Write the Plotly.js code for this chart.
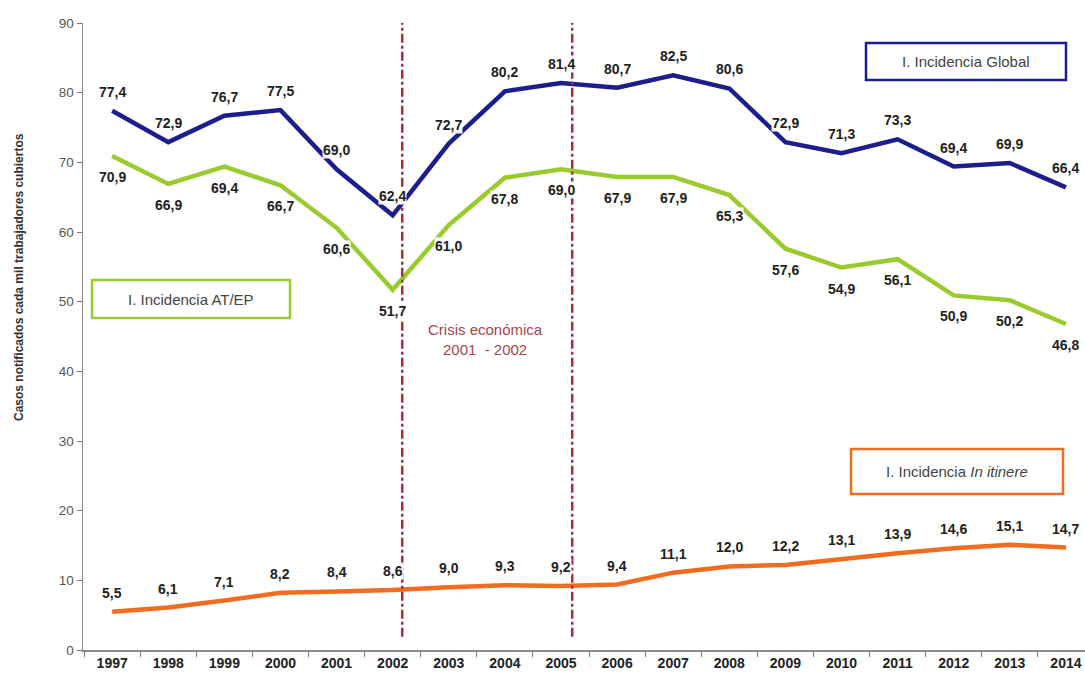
<!DOCTYPE html>
<html>
<head>
<meta charset="utf-8">
<script src="https://cdn.plot.ly/plotly-3.0.1.min.js"></script>
<style>html,body{margin:0;padding:0;background:#fff;}#chart{width:1085px;height:675px;}</style>
</head>
<body>
<div id="chart"></div>
<script>
const years = ["1997","1998","1999","2000","2001","2002","2003","2004","2005","2006","2007","2008","2009","2010","2011","2012","2013","2014"];
const global = [77.4,72.9,76.7,77.5,69.0,62.4,72.7,80.2,81.4,80.7,82.5,80.6,72.9,71.3,73.3,69.4,69.9,66.4];
const atep = [70.9,66.9,69.4,66.7,60.6,51.7,61.0,67.8,69.0,67.9,67.9,65.3,57.6,54.9,56.1,50.9,50.2,46.8];
const itinere = [5.5,6.1,7.1,8.2,8.4,8.6,9.0,9.3,9.2,9.4,11.1,12.0,12.2,13.1,13.9,14.6,15.1,14.7];
const crisisMarks = [5.17, 8.2];

const W = 1085, H = 675, L = 83, R = 0, T = 23, B = 25;
const pw = W - L - R, ph = H - T - B;
const px = x => (x - L) / pw;
const py = y => (H - B - y) / ph;
const fmt = v => v.toFixed(1).replace('.', ',');
const FONT = 'Liberation Sans, Arial, sans-serif';

const series = [
  {name: 'I. Incidencia Global', y: global, color: '#1b1e8c', shift: 19},
  {name: 'I. Incidencia AT/EP', y: atep, color: '#9acb2e', shift: -21},
  {name: 'I. Incidencia In itinere', y: itinere, color: '#f26c1f', shift: 19}
];

const traces = series.map(s => ({
  type: 'scatter', mode: 'lines', x: years, y: s.y, name: s.name,
  line: {color: s.color, width: 4.5}, hoverinfo: 'x+y'
}));

const annotations = [];
series.forEach(s => {
  s.y.forEach((v, i) => {
    annotations.push({
      x: i, y: v, xref: 'x', yref: 'y', yshift: s.shift, xanchor: 'center', yanchor: 'middle',
      text: fmt(v), showarrow: false, bgcolor: 'rgba(255,255,255,0.95)', borderpad: 0,
      font: {family: FONT, size: 14, color: '#222', weight: 'bold'}
    });
  });
});

// legend boxes
const boxes = [
  {x0: 866, x1: 1066, y0: 43, y1: 80, color: '#1b1e8c', text: 'I. Incidencia Global'},
  {x0: 92, x1: 290, y0: 280, y1: 318, color: '#9acb2e', text: 'I. Incidencia AT/EP'},
  {x0: 851, x1: 1063, y0: 449, y1: 494, color: '#f26c1f', text: 'I. Incidencia <i>In itinere</i>'}
];
const shapes = [];
boxes.forEach(b => {
  shapes.push({type: 'rect', xref: 'paper', yref: 'paper', x0: px(b.x0), x1: px(b.x1), y0: py(b.y1), y1: py(b.y0),
    line: {color: b.color, width: 2.5}, fillcolor: 'white', layer: 'above'});
  annotations.push({xref: 'paper', yref: 'paper', x: px((b.x0 + b.x1) / 2), y: py((b.y0 + b.y1) / 2),
    xanchor: 'center', yanchor: 'middle',
    text: b.text, showarrow: false, font: {family: FONT, size: 15, color: '#444'}});
});

crisisMarks.forEach(xv => {
  shapes.push({type: 'line', xref: 'x', yref: 'y', x0: xv, x1: xv, y0: 1.9, y1: 90,
    line: {color: '#a3303c', width: 2.5, dash: 'dashdot'}, layer: 'above'});
});

annotations.push({xref: 'paper', yref: 'paper', x: px(485), y: py(340), xanchor: 'center', yanchor: 'middle',
  text: 'Crisis económica<br>2001  - 2002', showarrow: false,
  font: {family: FONT, size: 15, color: '#a5464f'}});

annotations.push({xref: 'paper', yref: 'paper', x: px(19), y: py(277), xanchor: 'center', yanchor: 'middle', textangle: -90,
  text: 'Casos notificados cada mil trabajadores cubiertos', showarrow: false,
  font: {family: FONT, size: 12, color: '#333', weight: 'bold'}});

const layout = {
  width: W, height: H,
  margin: {l: L, r: R, t: T, b: B, pad: 0},
  paper_bgcolor: 'white', plot_bgcolor: 'white',
  showlegend: false,
  font: {family: FONT},
  xaxis: {
    type: 'category', range: [-0.52, 17.34], tickson: 'boundaries',
    ticks: 'outside', ticklen: 5, tickcolor: '#777', showline: true, linecolor: '#888', linewidth: 1.5,
    showgrid: false, zeroline: false, fixedrange: true,
    tickfont: {family: FONT, size: 14, color: '#222', weight: 'bold'}
  },
  yaxis: {
    range: [0, 90], dtick: 10, tick0: 0, ticks: 'outside', ticklen: 5, tickcolor: '#777',
    showline: true, linecolor: '#888', linewidth: 1.5, showgrid: false, zeroline: false,
    tickfont: {family: FONT, size: 13.5, color: '#555'}, fixedrange: true
  },
  shapes: shapes,
  annotations: annotations
};

Plotly.newPlot('chart', traces, layout, {displayModeBar: false, staticPlot: true});
</script>
</body>
</html>
